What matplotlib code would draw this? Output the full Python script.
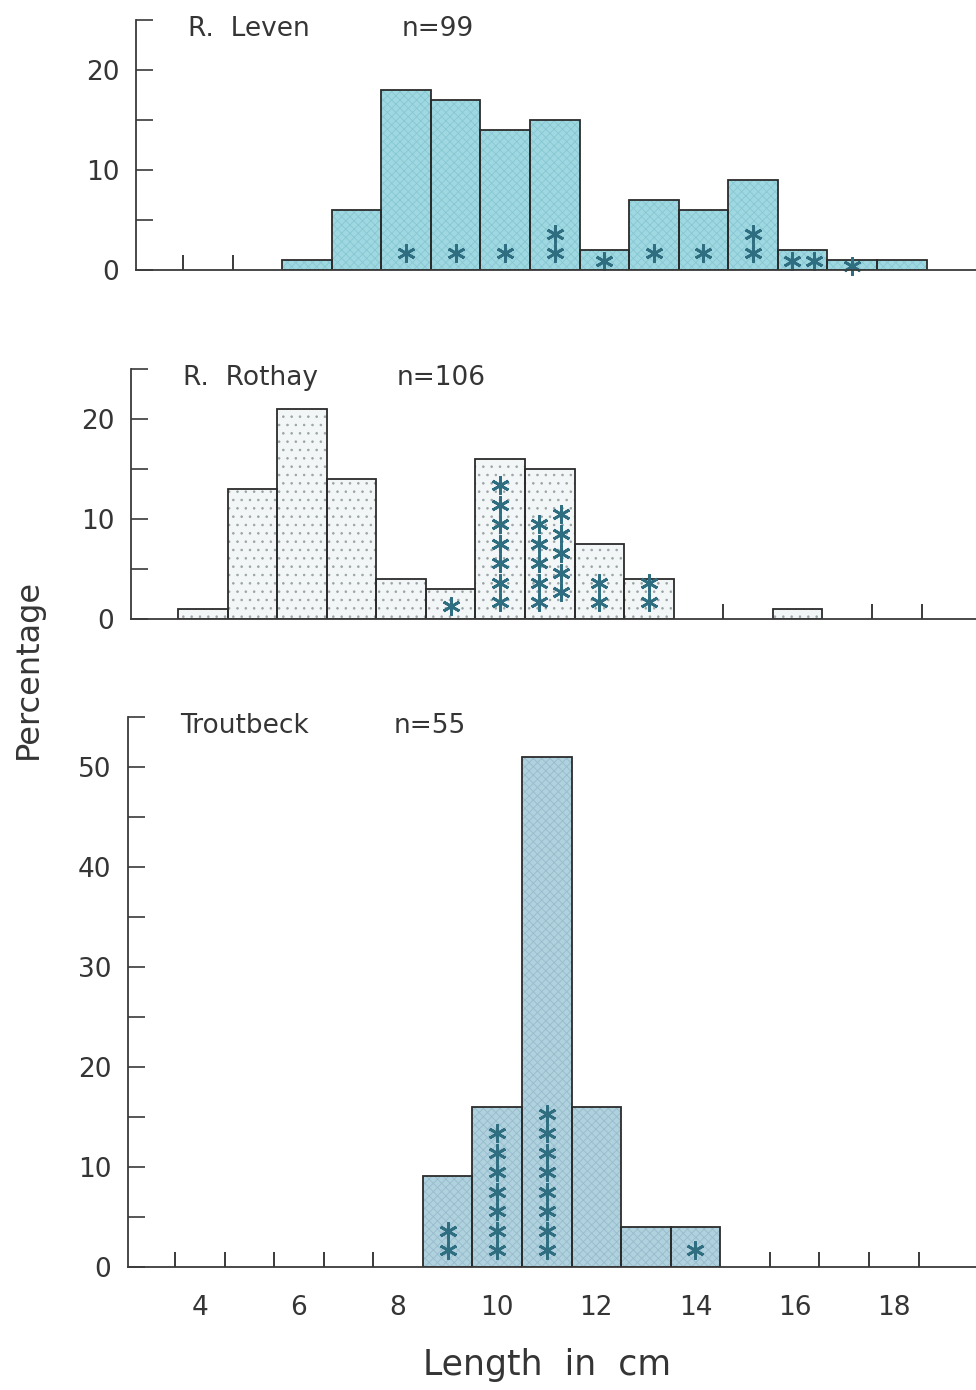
import numpy as np
import matplotlib.pyplot as plt

plt.rcParams['font.family'] = ['DejaVu Sans']
plt.rcParams['hatch.linewidth'] = 0.6

# bin centres (cm) and percentage per 1 cm class
lengths = np.arange(4, 19)

leven_pct = [0, 0, 1, 6, 18, 17, 14, 15, 2, 7, 6, 9, 2, 1, 1]
rothay_pct = [1, 13, 21, 14, 4, 3, 16, 15, 7.5, 4, 0, 0, 1, 0, 0]
troutbeck_pct = [0, 0, 0, 0, 0, 9.1, 16, 51, 16, 4, 4, 0, 0, 0, 0]

# number of asterisks drawn in each class
leven_star = [0, 0, 0, 0, 1, 1, 1, 2, 1, 1, 1, 2, 2, 1, 0]
rothay_star = [0, 0, 0, 0, 0, 1, 7, 10, 2, 2, 0, 0, 0, 0, 0]
troutbeck_star = [0, 0, 0, 0, 0, 2, 7, 8, 0, 0, 1, 0, 0, 0, 0]

panels = [
    ("R.  Leven", "n=99", leven_pct, leven_star, 25),
    ("R.  Rothay", "n=106", rothay_pct, rothay_star, 25),
    ("Troutbeck", "n=55", troutbeck_pct, troutbeck_star, 55),
]

styles = [
    dict(face="#a0d8e1", hatch="xxxx", hcol="#86c7d3"),
    dict(face="#f3f6f6", hatch="..", hcol="#9aa3a5"),
    dict(face="#b0d1de", hatch="xxxx", hcol="#97bccc"),
]

# axes boxes in pixels: left, bottom, width, height
boxes = [(136, 1120, 850, 250), (131, 771, 850, 250), (128, 123, 850, 550)]

txt = "#353535"
star_col = "#2f6e80"

fig = plt.figure(figsize=(9.76, 13.9), dpi=100)

for k, (name, n_lab, pct, stars, ytop) in enumerate(panels):
    l, b, w, h = boxes[k]
    ax = fig.add_axes([l / 976, b / 1390, w / 976, h / 1390])
    st = styles[k]
    pct = np.array(pct, dtype=float)
    has = pct > 0

    ax.bar(lengths[has], pct[has], width=1.0, color=st["face"],
           edgecolor=st["hcol"], hatch=st["hatch"], linewidth=0)
    ax.bar(lengths[has], pct[has], width=1.0, fill=False,
           edgecolor="#2b2b2b", linewidth=1.3)

    # little marks at the edges of empty classes
    padded = np.concatenate([[0], pct, [0]])
    for i, edge in enumerate(np.arange(3.5, 19.0, 1.0)):
        if padded[i] == 0 and padded[i + 1] == 0:
            ax.vlines(edge, 0, 1.5, color="#2b2b2b", linewidth=1.3)

    # asterisks stacked inside the bars
    for x, hgt, cnt in zip(lengths, pct, stars):
        if cnt == 0:
            continue
        base = min(1.7, 0.45 * hgt)
        step = 1.95
        if base + step * (cnt - 1) > hgt:
            stag = 1.0 if hgt > 5 else 0.0
            for i in range(cnt):
                col = i % 2
                row = i // 2
                ax.plot(x - 0.22 + 0.44 * col, base + row * step + col * stag,
                        marker=(6, 2, 0), ms=13, mew=2.0, color=star_col,
                        clip_on=False)
        else:
            for i in range(cnt):
                ax.plot(x, base + i * step, marker=(6, 2, 0), ms=13, mew=2.0,
                        color=star_col, clip_on=False)

    ax.set_xlim(2.55, 19.7)
    ax.set_ylim(0, ytop)
    for s in ("top", "right"):
        ax.spines[s].set_visible(False)
    for s in ("left", "bottom"):
        ax.spines[s].set_color("#3a3a3a")
        ax.spines[s].set_linewidth(1.3)

    ax.set_yticks(np.arange(0, ytop, 10))
    ax.set_yticks(np.arange(5, ytop + 0.1, 5), minor=True)
    ax.tick_params(axis="y", which="both", direction="in", length=12,
                   width=1.2, color="#3a3a3a", pad=12, labelsize=19,
                   labelcolor=txt)

    if k < 2:
        ax.set_xticks([])
    else:
        ax.set_xticks(np.arange(4, 19, 2))
        ax.tick_params(axis="x", length=0, pad=20, labelsize=19,
                       labelcolor=txt)

    ax.text(3.6, ytop - 0.9, name, fontsize=19, color=txt, va="center")
    ax.text(7.9, ytop - 0.9, n_lab, fontsize=19, color=txt, va="center")

fig.text(0.029, 0.519, "Percentage", rotation=90, fontsize=23, color=txt,
         ha="center", va="center")
fig.text(0.561, 0.018, "Length  in  cm", fontsize=25, color=txt,
         ha="center", va="center")

fig.savefig("out.png", dpi=100)
